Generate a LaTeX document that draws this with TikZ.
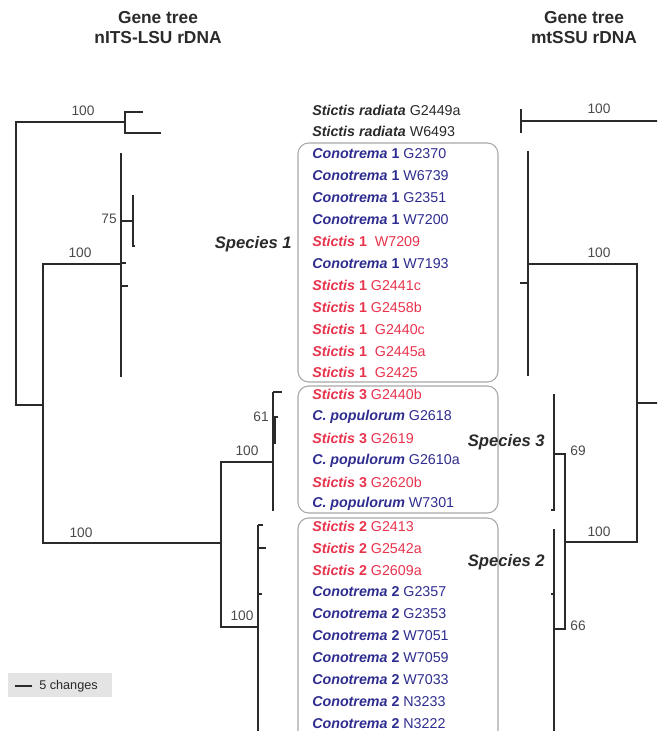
\documentclass[tikz,border=0pt]{standalone}
\usepackage{fontspec}
\setmainfont{Liberation Sans}
\usepackage{tikz}
\usetikzlibrary{positioning,calc}
\definecolor{conoblue} {HTML}{2E2D8F}
\definecolor{stictred} {HTML}{E8334D}
\definecolor{boxgray}  {HTML}{A8A8A8}
\definecolor{ink}      {HTML}{2A2A2A}
\definecolor{barfill}  {HTML}{E4E4E4}
\newcommand{\taxon}[3]{\textbf{\textit{#1}#2}\ #3}

\begin{document}
\begin{tikzpicture}[x=0.75pt,y=-0.75pt,
    branch/.style={line width=1.3pt,draw=ink},
    support/.style={font=\fontsize{10.3}{12}\selectfont,text=ink!85,inner sep=0pt},
    clade/.style={draw=boxgray,line width=0.8pt,rounded corners=8pt},
    species/.style={font=\fontsize{12.5}{14}\selectfont\bfseries\itshape,text=ink,inner sep=0pt},
    header/.style={font=\fontsize{13}{15}\selectfont\bfseries,text=ink,align=center,inner sep=0pt}]
  \clip (0,0) rectangle (657,731);

  % headers
  \node[header] (hleft)  at (158,28) {Gene tree\\nITS-LSU rDNA};
  \node[header] (hright) at (584,28) {Gene tree\\mtSSU rDNA};

  % clade boxes
  \draw[clade] (298,143) rectangle (498,382);
  \draw[clade] (298,386) rectangle (498,513);
  \draw[clade] (298,518) rectangle (498,760);

  % taxa
  \foreach \i/\g/\n/\a/\c in {
      0/Stictis radiata//G2449a/ink, 1/Stictis radiata//W6493/ink,
      2/Conotrema/\ 1/G2370/conoblue, 3/Conotrema/\ 1/W6739/conoblue,
      4/Conotrema/\ 1/G2351/conoblue, 5/Conotrema/\ 1/W7200/conoblue,
      6/Stictis/\ 1/\ W7209/stictred, 7/Conotrema/\ 1/W7193/conoblue,
      8/Stictis/\ 1/G2441c/stictred, 9/Stictis/\ 1/G2458b/stictred,
      10/Stictis/\ 1/\ G2440c/stictred, 11/Stictis/\ 1/\ G2445a/stictred,
      12/Stictis/\ 1/\ G2425/stictred,
      13/Stictis/\ 3/G2440b/stictred, 14/C. populorum//G2618/conoblue,
      15/Stictis/\ 3/G2619/stictred, 16/C. populorum//G2610a/conoblue,
      17/Stictis/\ 3/G2620b/stictred, 18/C. populorum//W7301/conoblue,
      19/Stictis/\ 2/G2413/stictred, 20/Stictis/\ 2/G2542a/stictred,
      21/Stictis/\ 2/G2609a/stictred, 22/Conotrema/\ 2/G2357/conoblue,
      23/Conotrema/\ 2/G2353/conoblue, 24/Conotrema/\ 2/W7051/conoblue,
      25/Conotrema/\ 2/W7059/conoblue, 26/Conotrema/\ 2/W7033/conoblue,
      27/Conotrema/\ 2/N3233/conoblue, 28/Conotrema/\ 2/N3222/conoblue}
    \node[anchor=west,inner sep=0pt,text=\c,font=\fontsize{10.7}{12}\selectfont]
      (t\i) at (312,{110+21.9*\i}) {\taxon{\g}{\n}{\a}};

  \node[species,anchor=east] (sp1) at (292,244) {Species 1};
  \node[species,anchor=east] (sp3) at (545,442) {Species 3};
  \node[species,anchor=east] (sp2) at (545,562) {Species 2};

  % left tree, nITS-LSU
  \coordinate (lta)   at (143,112);
  \coordinate (ltb)   at (161,133);
  \coordinate (lrad)  at (125,122);
  \coordinate (lroot) at (16,260);
  \coordinate (lin)   at (43,405);
  \coordinate (lsp1)  at (121,264);
  \coordinate (lin2)  at (221,543);
  \coordinate (lsp3)  at (273,462);
  \coordinate (lsp2)  at (258,627);
  \draw[branch] (lta) -| (lrad) |- (ltb);
  \draw[branch] (lrad) -| (lroot) |- (lin);
  \draw[branch] (lsp1) -| (lin) |- (lin2);
  \draw[branch] (lsp3) -| (lin2) |- (lsp2);
  \draw[branch] (121,153) -- (121,377);
  \draw[branch] (121,263) -- ++(5,0) (121,286) -- ++(7,0);
  \draw[branch] (121,221) -- ++(13,0) (133,195) -- (133,246) -- ++(2,0);
  \draw[branch] (273,392) -- (273,511) (273,392) -- ++(9,0);
  \draw[branch] (274,417) -- ++(4,0);
  \draw[line width=3pt,draw=ink] (274,418) -- (274,444);
  \draw[branch] (258,525) -- (258,735);
  \draw[branch] (258,525) -- ++(5,0) (258,548) -- ++(8,0) (258,594) -- ++(4,0);

  \node[support] at (83,111)  {100};
  \node[support] at (109,219) {75};
  \node[support] at (80,253)  {100};
  \node[support] at (81,533)  {100};
  \node[support] at (261,417) {61};
  \node[support] at (247,451) {100};
  \node[support] at (242,616) {100};

  % right tree, mtSSU
  \coordinate (rrad)  at (521,121);
  \coordinate (rout1) at (660,121);
  \coordinate (rsp1)  at (528,264);
  \coordinate (rroot) at (637,403);
  \coordinate (rout2) at (660,403);
  \coordinate (rin)   at (565,542);
  \coordinate (rsp3)  at (554,454);
  \coordinate (rsp2)  at (554,629);
  \draw[branch] (521,109) -- (521,133) (rrad) -- (rout1);
  \draw[branch] (rsp1) -| (rroot) |- (rin);
  \draw[branch] (rroot) -- (rout2);
  \draw[branch] (rsp3) -| (rin) |- (rsp2);
  \draw[branch] (528,151) -- (528,376) (528,283) -- ++(-8,0);
  \draw[branch] (554,394) -- (554,510) -- ++(-3,0);
  \draw[branch] (554,529) -- (554,735) (554,594) -- ++(-3,0);

  \node[support] at (599,109) {100};
  \node[support] at (599,253) {100};
  \node[support] at (599,532) {100};
  \node[support] at (578,451) {69};
  \node[support] at (578,626) {66};

  % scale bar
  \fill[barfill] (8,673) rectangle (112,697);
  \node[anchor=west,inner sep=0pt,font=\fontsize{9.5}{11}\selectfont,text=ink]
    (scale) at (39,686) {5 changes};
  \draw[line width=1pt,draw=ink] ([xshift=-5pt]scale.west) -- ++(-17,0);
\end{tikzpicture}
\end{document}
